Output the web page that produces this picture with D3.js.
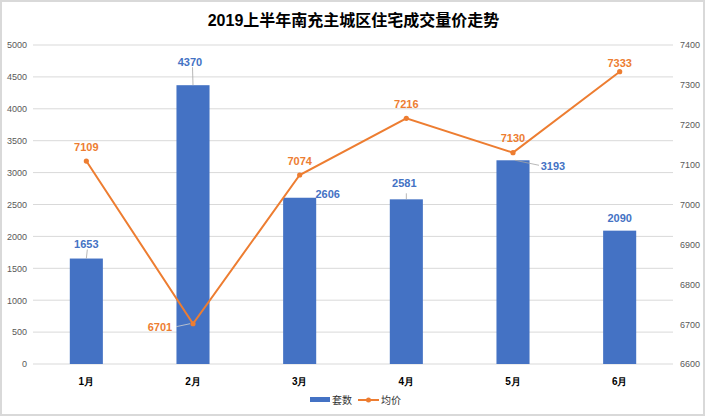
<!DOCTYPE html>
<html><head><meta charset="utf-8">
<script src="https://cdn.jsdelivr.net/npm/d3@7"></script>
<style>body{margin:0;background:#fff;}svg{display:block;font-family:"Liberation Sans",Arial,"Noto Sans CJK SC",sans-serif;}</style>
</head><body><svg id="c" width="707" height="418"></svg>
<script>
const categories = ["1月","2月","3月","4月","5月","6月"];
const units = [1653,4370,2606,2581,3193,2090];
const prices = [7109,6701,7074,7216,7130,7333];
const leftTicks = [0,500,1000,1500,2000,2500,3000,3500,4000,4500,5000];
const rightTicks = [6600,6700,6800,6900,7000,7100,7200,7300,7400];
const title = "2019上半年南充主城区住宅成交量价走势";
const seriesNames = ["套数","均价"];

const svg = d3.select("#c");
const W=707,H=418;
const m={l:33,r:34,t:45,b:54};
const blue="#4472C4", orange="#ED7D31";
svg.append("rect").attr("x",1).attr("y",1).attr("width",W-4).attr("height",H-4).attr("fill","#fff").attr("stroke","#d9d9d9").attr("stroke-width",2);

const x=d3.scaleBand().domain(categories).range([m.l,W-m.r]).paddingInner(0.69).paddingOuter(0.345);
const yL=d3.scaleLinear().domain([0,5000]).range([H-m.b,m.t]);
const yR=d3.scaleLinear().domain([6600,7400]).range([H-m.b,m.t]);

svg.append("text").attr("x",W/2).attr("y",26).attr("text-anchor","middle").attr("font-size",16).attr("font-weight","bold").attr("fill","#000").text(title);

// grid
svg.append("g").selectAll("line").data(leftTicks).join("line")
 .attr("x1",m.l).attr("x2",W-m.r).attr("y1",d=>yL(d)).attr("y2",d=>yL(d)).attr("stroke","#d9d9d9").attr("stroke-width",1);

const fmt=d3.format("d");
const gl=svg.append("g").attr("transform",`translate(${m.l-6},0)`).call(d3.axisLeft(yL).tickValues(leftTicks).tickFormat(fmt).tickSize(0).tickPadding(0));
gl.select(".domain").remove();
gl.selectAll("text").attr("fill","#595959").attr("font-size",9);
const gr=svg.append("g").attr("transform",`translate(${W-m.r+7},0)`).call(d3.axisRight(yR).tickValues(rightTicks).tickFormat(fmt).tickSize(0).tickPadding(0));
gr.select(".domain").remove();
gr.selectAll("text").attr("fill","#595959").attr("font-size",9);
const gb=svg.append("g").attr("transform",`translate(0,${H-m.b})`).call(d3.axisBottom(x).tickSize(0).tickPadding(14));
gb.select(".domain").remove();
gb.selectAll("text").attr("fill","#000").attr("font-size",10).attr("font-weight","bold");

// bars
svg.append("g").selectAll("rect").data(units).join("rect")
 .attr("x",(d,i)=>x(categories[i])).attr("width",x.bandwidth())
 .attr("y",d=>yL(d)).attr("height",d=>yL(0)-yL(d)).attr("fill",blue);

const cx=i=>x(categories[i])+x.bandwidth()/2;
// line
svg.append("path").datum(prices).attr("fill","none").attr("stroke",orange).attr("stroke-width",2)
 .attr("d",d3.line().x((d,i)=>cx(i)).y(d=>yR(d)));
svg.append("g").selectAll("circle").data(prices).join("circle")
 .attr("cx",(d,i)=>cx(i)).attr("cy",d=>yR(d)).attr("r",2.6).attr("fill",orange);

// label offsets (dx, dy relative to mark anchor), leader lines
const uOff=[[0,-14,true],[-3,-23,true],[28,-4,false],[-2,-16,true],[40,6,true],[0,-13,false]];
const pOff=[[0,-14],[-33,3,true],[0,-14],[0,-14],[0,-15],[0,-9]];
const lab=svg.append("g").attr("font-size",11).attr("font-weight","bold");
units.forEach((d,i)=>{
  const ax=cx(i), ay=yL(d);
  const [dx,dy,lead]=uOff[i];
  if(lead){
    if(i===4) svg.append("line").attr("x1",ax+2).attr("y1",ay).attr("x2",ax+dx-14).attr("y2",ay+dy-1).attr("stroke","#a6a6a6").attr("stroke-width",0.8);
    else if(i===3) svg.append("line").attr("x1",ax).attr("y1",ay).attr("x2",ax).attr("y2",ay-6).attr("stroke","#a6a6a6").attr("stroke-width",0.8);
    else svg.append("line").attr("x1",ax).attr("y1",ay).attr("x2",ax+dx/2+1).attr("y2",ay+dy+5).attr("stroke","#a6a6a6").attr("stroke-width",0.8);
  }
  lab.append("text").attr("x",ax+dx).attr("y",ay+dy).attr("dy","0.35em").attr("text-anchor","middle").attr("fill",blue).text(d);
});
prices.forEach((d,i)=>{
  const ax=cx(i), ay=yR(d);
  const [dx,dy,lead]=pOff[i];
  if(lead) svg.append("line").attr("x1",ax-3).attr("y1",ay).attr("x2",ax+dx+16).attr("y2",ay+dy).attr("stroke","#d0d0d0").attr("stroke-width",0.8);
  lab.append("text").attr("x",ax+dx).attr("y",ay+dy).attr("dy","0.35em").attr("text-anchor","middle").attr("fill",orange).text(d);
});

// legend
const lg=svg.append("g").attr("font-size",10).attr("fill","#333");
lg.append("rect").attr("x",310).attr("y",397).attr("width",20).attr("height",5).attr("fill",blue);
lg.append("text").attr("x",332).attr("y",400).attr("dy","0.35em").text(seriesNames[0]);
lg.append("line").attr("x1",358).attr("x2",379).attr("y1",400).attr("y2",400).attr("stroke",orange).attr("stroke-width",2);
lg.append("circle").attr("cx",368.5).attr("cy",400).attr("r",2.5).attr("fill",orange);
lg.append("text").attr("x",381).attr("y",400).attr("dy","0.35em").text(seriesNames[1]);
</script></body></html>
